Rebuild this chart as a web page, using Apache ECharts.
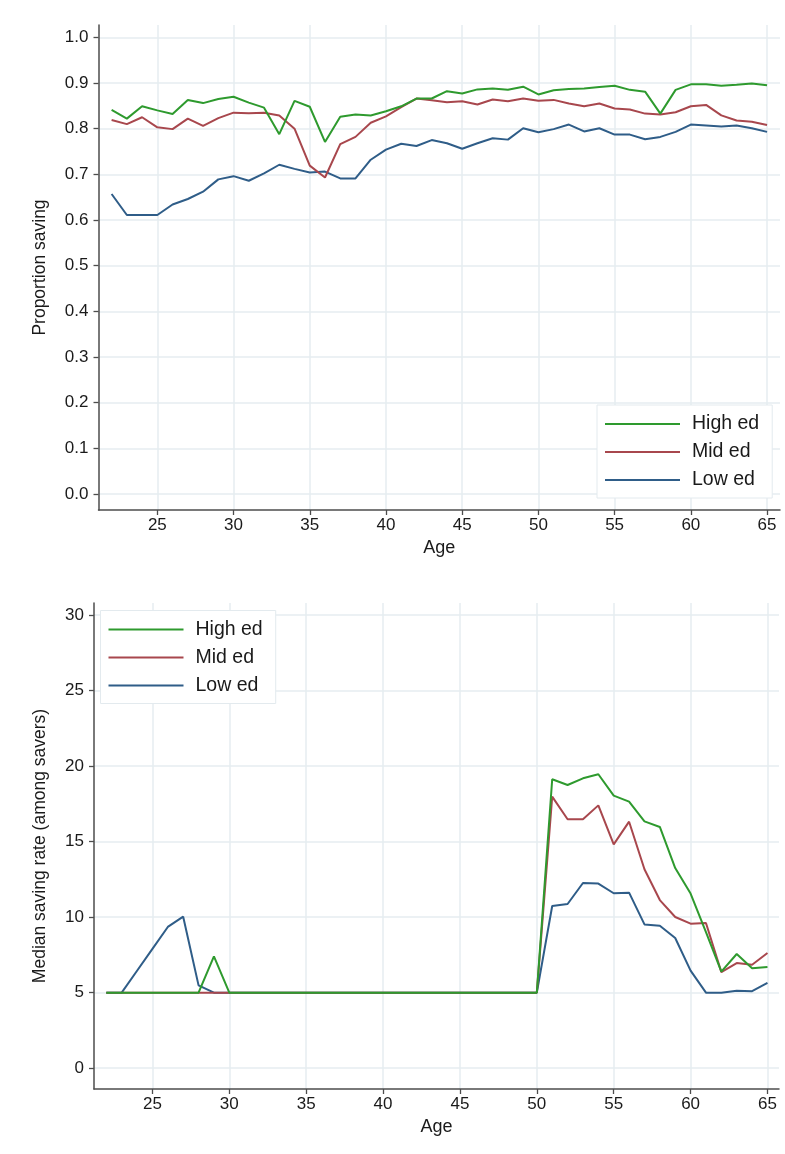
<!DOCTYPE html>
<html><head><meta charset="utf-8">
<script src="https://cdn.jsdelivr.net/npm/echarts@6/dist/echarts.min.js"></script>
<style>html,body{margin:0;padding:0;background:#fff}#c{width:785px;height:1154px}</style>
</head><body><div id="c"></div>
<script>
// ---- data ----
const ages = [22,23,24,25,26,27,28,29,30,31,32,33,34,35,36,37,38,39,40,41,42,43,44,45,46,47,48,49,50,51,52,53,54,55,56,57,58,59,60,61,62,63,64,65];
const seriesNames = ['High ed','Mid ed','Low ed'];
const xTickValues = [25,30,35,40,45,50,55,60,65];
const propTickValues = [0.0,0.1,0.2,0.3,0.4,0.5,0.6,0.7,0.8,0.9,1.0];
const rateTickValues = [0,5,10,15,20,25,30];

// Proportion saving
const propHigh = [0.841,0.822,0.849,0.840,0.832,0.863,0.856,0.865,0.870,0.857,0.846,0.788,0.861,0.848,0.771,0.826,0.831,0.829,0.838,0.849,0.866,0.866,0.882,0.877,0.886,0.888,0.885,0.892,0.875,0.884,0.887,0.888,0.891,0.894,0.885,0.881,0.833,0.885,0.897,0.897,0.894,0.896,0.899,0.895];
const propMid  = [0.819,0.810,0.825,0.803,0.799,0.822,0.806,0.823,0.835,0.834,0.835,0.829,0.800,0.719,0.693,0.766,0.782,0.813,0.827,0.847,0.866,0.862,0.858,0.860,0.853,0.864,0.860,0.866,0.861,0.863,0.855,0.849,0.855,0.844,0.842,0.833,0.831,0.836,0.849,0.852,0.829,0.818,0.815,0.808];
const propLow  = [0.657,0.611,0.611,0.611,0.634,0.646,0.662,0.689,0.696,0.686,0.702,0.721,0.712,0.704,0.706,0.691,0.691,0.732,0.754,0.767,0.762,0.775,0.768,0.756,0.768,0.779,0.776,0.801,0.792,0.799,0.809,0.794,0.801,0.787,0.787,0.777,0.782,0.793,0.809,0.807,0.805,0.807,0.801,0.793];

// Median saving rate (among savers)
const rateHigh = [5,5,5,5,5,5,5,7.4,5,5,5,5,5,5,5,5,5,5,5,5,5,5,5,5,5,5,5,5,5,19.13,18.75,19.19,19.46,18.05,17.65,16.34,15.97,13.25,11.56,9.01,6.39,7.56,6.61,6.70];
const rateMid  = [5,5,5,5,5,5,5,5,5,5,5,5,5,5,5,5,5,5,5,5,5,5,5,5,5,5,5,5,5,17.98,16.48,16.48,17.40,14.82,16.32,13.17,11.13,10.01,9.57,9.61,6.36,6.96,6.85,7.62];
const rateLow  = [5,5,6.45,7.9,9.35,10.03,5.48,5,5,5,5,5,5,5,5,5,5,5,5,5,5,5,5,5,5,5,5,5,5,10.74,10.87,12.26,12.22,11.58,11.62,9.52,9.43,8.62,6.46,5.0,5.0,5.13,5.1,5.64];

// ---- chart ----
const FONT = '"Liberation Sans", Arial, sans-serif';
const TXT = '#1a1a1a';
const COL = {high:'#2e9a2e', mid:'#a8474d', low:'#2f5d88'};
const AX = '#4d4d4d';
const GRIDC = '#e6edf1';

function pairs(vals){ return ages.map((a,i)=>[a, vals[i]]); }

function xAxis(gi, min, max, gap){
  return {
    type:'value', gridIndex:gi, min:min, max:max,
    name:'Age', nameLocation:'middle', nameGap:gap,
    nameTextStyle:{fontFamily:FONT, fontSize:18, color:TXT},
    axisLine:{show:true, onZero:false, lineStyle:{color:AX, width:1.5}},
    axisTick:{show:true, length:5, customValues:xTickValues, lineStyle:{color:AX, width:1.3}},
    axisLabel:{customValues:xTickValues, margin:7, fontFamily:FONT, fontSize:17, color:TXT},
    splitLine:{show:true, lineStyle:{color:GRIDC, width:1.5}}
  };
}
function yAxis(gi, min, max, ticks, name, gap, fmt){
  return {
    type:'value', gridIndex:gi, min:min, max:max,
    name:name, nameLocation:'middle', nameGap:gap,
    nameTextStyle:{fontFamily:FONT, fontSize:17.5, color:TXT},
    axisLine:{show:true, onZero:false, lineStyle:{color:AX, width:1.5}},
    axisTick:{show:true, length:5, customValues:ticks, lineStyle:{color:AX, width:1.3}},
    axisLabel:{customValues:ticks, margin:10, fontFamily:FONT, fontSize:17, color:TXT, formatter:fmt},
    splitLine:{show:true, lineStyle:{color:GRIDC, width:1.5}}
  };
}
function line(name, xi, data, color){
  return {type:'line', name:name, xAxisIndex:xi, yAxisIndex:xi, data:data, symbol:'none',
    lineStyle:{color:color, width:2}, itemStyle:{color:color}, animation:false, z:3};
}
function legend(left, top){
  return {
    data:seriesNames, orient:'vertical', left:left, top:top,
    icon:'rect', itemWidth:75, itemHeight:2, itemGap:8, itemTextGap:12,
    padding:[9,13,8,8], backgroundColor:'#fff', borderColor:'#e3eaee', borderWidth:1,
    textStyle:{fontFamily:FONT, fontSize:19.5, color:TXT, lineHeight:18, padding:[0,0,0,7]},
    selectedMode:false
  };
}

const option = {
  backgroundColor:'#fff',
  animation:false,
  grid:[
    {left:98.5, top:25, width:681.5, height:485},
    {left:94, top:603, width:685, height:486}
  ],
  xAxis:[ xAxis(0, 21.14, 65.85, 29), xAxis(1, 21.2, 65.75, 29) ],
  yAxis:[
    yAxis(0, -0.035, 1.027, propTickValues, 'Proportion saving', 49, v=>v.toFixed(1)),
    yAxis(1, -1.38, 30.8, rateTickValues, 'Median saving rate (among savers)', 45, v=>String(Math.round(v)))
  ],
  legend:[ legend(597, 405), legend(100.5, 610.5) ],
  series:[
    line('Low ed', 0, pairs(propLow), COL.low),
    line('Mid ed', 0, pairs(propMid), COL.mid),
    line('High ed', 0, pairs(propHigh), COL.high),
    line('Low ed', 1, pairs(rateLow), COL.low),
    line('Mid ed', 1, pairs(rateMid), COL.mid),
    line('High ed', 1, pairs(rateHigh), COL.high)
  ]
};
const chart = echarts.init(document.getElementById('c'), null, {renderer:'canvas'});
chart.setOption(option);
</script></body></html>
